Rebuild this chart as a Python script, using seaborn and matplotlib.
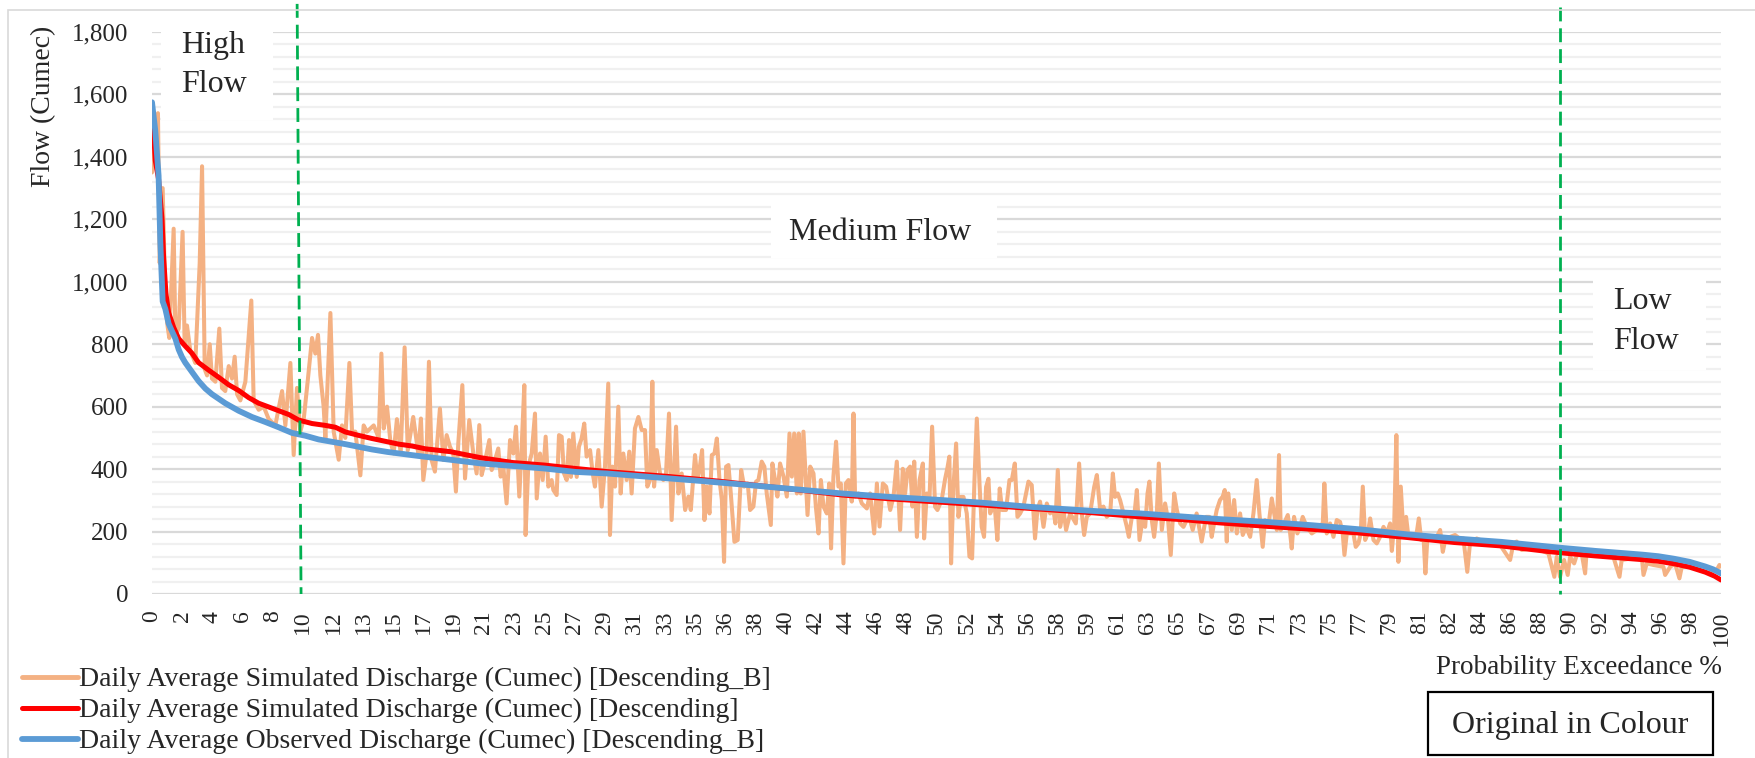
import numpy as np
import pandas as pd
import matplotlib
matplotlib.use("Agg")
import matplotlib.pyplot as plt
import matplotlib.transforms as mtransforms
from matplotlib.ticker import MultipleLocator, FuncFormatter
from matplotlib.patches import Rectangle
from matplotlib.lines import Line2D
import seaborn as sns

# ---------------- data ----------------
x_tick_labels = ["0", "2", "4", "6", "8", "10", "12", "13", "15", "17", "19", "21", "23", "25",
                 "27", "29", "31", "33", "35", "36", "38", "40", "42", "44", "46", "48", "50",
                 "52", "54", "56", "58", "59", "61", "63", "65", "67", "69", "71", "73", "75",
                 "77", "79", "81", "82", "84", "86", "88", "90", "92", "94", "96", "98", "100"]

series_names = ["Daily Average Simulated Discharge (Cumec) [Descending_B]",
                "Daily Average Simulated Discharge (Cumec) [Descending]",
                "Daily Average Observed Discharge (Cumec) [Descending_B]"]

obs_pct = [0, 0.21, 0.42, 0.53, 0.68, 0.85, 1.06, 1.27, 1.49, 1.70, 1.91, 2.12, 2.55, 2.97, 3.40,
           3.82, 4.67, 5.52, 6.37, 7.22, 8.07, 8.92, 9.77, 10.62, 12.32, 14.02, 15.0, 17.0, 19, 21,
           23, 25, 27, 29, 31, 33, 35, 38, 40, 44, 47, 50, 53, 56, 60, 63, 66, 68, 71, 74, 77, 80,
           83, 86, 89, 90, 92, 94, 95, 96, 97, 98, 99, 99.5, 100]
obs_flow = [1575, 1483, 1340, 1127, 937, 913, 866, 842, 818, 783, 759, 741, 711, 682, 658,
            640, 611, 587, 567, 551, 534, 516, 507, 495, 480, 463, 455, 442, 430, 418,
            410, 402, 391, 386, 378, 370, 362, 349, 340, 322, 311, 302, 292, 279, 266, 258, 247,
            240, 231, 220, 207, 191, 178, 167, 152, 147, 138, 130, 126, 121, 113, 103, 88, 79, 66]

sim_pct = [0, 0.13, 0.21, 0.42, 0.64, 0.74, 0.89, 1.06, 1.38, 1.70, 2.12, 2.55, 2.97, 3.61, 4.25,
           4.89, 5.52, 6.16, 6.80, 7.44, 8.07, 8.71, 9.35, 10.2, 11.05, 11.69, 12.32, 13.17, 14.02,
           14.87, 15.72, 16.57, 17.42, 19, 21, 23, 25, 27, 29, 31, 33, 36, 40, 44, 47, 50, 53, 56,
           60, 63, 66, 68, 71, 74, 77, 80, 83, 86, 89, 90, 92, 94, 95, 96, 97, 98, 99, 99.6, 100]
sim_flow = [1525, 1454, 1388, 1328, 1200, 1079, 961, 901, 854, 818, 794, 771, 741, 717, 694,
            670, 652, 629, 611, 599, 587, 575, 557, 546, 540, 534, 519, 508, 498,
            489, 480, 474, 465, 456, 436, 421, 413, 402, 392, 384, 376, 362, 340, 317, 305, 295,
            285, 274, 260, 247, 237, 228, 217, 207, 195, 181, 165, 154, 136, 131, 122, 114, 110,
            105, 97, 86, 70, 57, 45]

simb_pct = [0.00, 0.38, 0.49, 0.68, 0.85, 0.96, 1.10, 1.38, 1.49, 1.70, 1.95, 2.08, 2.23, 2.44,
            2.76, 3.04, 3.19, 3.36, 3.51, 3.68, 3.82, 4.04, 4.29, 4.46, 4.67, 4.89, 5.10, 5.27,
            5.42, 5.63, 5.95, 6.33, 6.48, 6.80, 7.12, 7.44, 7.86, 8.29, 8.50, 8.82, 9.03, 9.24,
            9.45, 9.67, 9.94, 10.20, 10.41, 10.58, 10.73, 10.94, 11.05, 11.37, 11.58, 11.90,
            12.11, 12.32, 12.58, 12.75, 12.96, 13.28, 13.49, 13.70, 14.13, 14.45, 14.62, 14.77,
            14.98, 15.19, 15.40, 15.61, 15.85, 16.10, 16.30,
            16.65, 16.82, 16.97, 17.14, 17.29, 17.50, 17.65, 17.82, 18.03, 18.35, 18.57, 18.78,
            18.99, 19.20, 19.37, 19.52, 19.78, 19.95, 20.22, 20.48, 20.69, 20.86, 21.01, 21.22,
            21.50, 21.65, 21.86, 22.07, 22.22, 22.39, 22.60, 22.82, 23.03, 23.20, 23.41, 23.56,
            23.73, 23.81, 23.98, 24.20, 24.41, 24.52, 24.73, 24.90, 25.09, 25.26, 25.47, 25.58,
            25.79, 25.94, 26.11, 26.26, 26.43, 26.58, 26.70, 26.85, 27.07, 27.21, 27.38, 27.55,
            27.70, 27.92, 28.09, 28.23, 28.45, 28.66, 28.87, 29.08, 29.19, 29.34, 29.51, 29.72,
            29.87, 30.04, 30.25, 30.42, 30.57, 30.78, 31.00, 31.21, 31.42, 31.57, 31.74, 31.89,
            32.00, 32.17, 32.38, 32.59, 32.76, 32.95, 33.12, 33.40,
            33.55, 33.76, 33.98, 34.19, 34.34, 34.61, 34.76, 34.89, 35.06, 35.21, 35.36, 35.53,
            35.68, 35.85, 36.00, 36.17, 36.32, 36.46, 36.59, 36.74, 36.89, 37.12, 37.33, 37.55,
            37.74, 37.97, 38.12, 38.33, 38.50, 38.65, 38.86, 39.03, 39.18, 39.44, 39.54, 39.71,
            39.86, 40.03, 40.25, 40.46, 40.63, 40.78, 40.93, 41.10, 41.22, 41.35, 41.52, 41.63,
            41.78, 41.95, 42.16, 42.31, 42.48, 42.63, 42.80, 43.01, 43.16, 43.28, 43.43, 43.60,
            43.75, 43.90, 44.07, 44.22, 44.39, 44.60, 44.71, 44.81, 45.03, 45.24, 45.56, 45.77,
            46.03, 46.20, 46.37, 46.58, 46.79, 47.05, 47.26, 47.47, 47.68, 47.85, 48.00, 48.15,
            48.32, 48.47, 48.58, 48.75, 48.92, 49.13, 49.21, 49.38, 49.55, 49.72,
            49.91, 50.06, 50.33, 50.55, 50.70, 50.82, 50.93, 51.08, 51.25, 51.40, 51.55, 51.72,
            51.93, 52.10, 52.27, 52.42, 52.57, 52.74, 52.88, 53.03, 53.16, 53.31, 53.42, 53.59,
            53.73, 53.88, 54.03, 54.18, 54.43, 54.65, 54.80, 54.99, 55.16, 55.33, 55.54, 55.86,
            56.07, 56.28, 56.43, 56.60, 56.82, 57.03, 57.24, 57.45, 57.58, 57.73, 57.88, 58.09,
            58.26, 58.52, 58.88, 59.09, 59.26, 59.41, 59.58, 59.79, 60.05, 60.22, 60.43, 60.64,
            60.85, 61.07, 61.24, 61.38, 61.55, 61.70, 61.92, 62.13, 62.26, 62.45, 62.62, 62.77,
            62.94, 63.13, 63.30, 63.45, 63.57, 63.72, 63.87, 64.04, 64.17, 64.36, 64.57, 64.76,
            64.93, 65.15, 65.32, 65.53, 65.74, 65.95,
            66.16, 66.33, 66.58, 66.90, 67.18, 67.39, 67.54, 67.69, 67.86, 68.07, 68.24, 68.37,
            68.50, 68.60, 68.82, 68.97, 69.14, 69.35, 69.52, 69.73, 69.99, 70.20, 70.41, 70.58,
            70.79, 70.94, 71.15, 71.37, 71.52, 71.69, 71.83, 71.94, 72.15, 72.39, 72.54, 72.64,
            72.79, 73.00, 73.17, 73.34, 73.60, 73.92, 74.24, 74.49, 74.62, 74.72, 74.87, 75.09,
            75.30, 75.51, 75.72, 75.89, 76.00, 76.15, 76.36, 76.57, 76.72, 76.89, 77.04, 77.17,
            77.32, 77.49, 77.64, 77.85, 78.06, 78.27, 78.49, 78.70, 78.91, 79.02, 79.17, 79.31,
            79.44, 79.59, 79.76, 79.93, 80.08, 80.29, 80.57, 80.74, 80.89, 81.04, 81.16, 81.29,
            81.57, 81.89, 82.10, 82.27, 82.42, 82.74, 83.05, 83.33,
            83.58, 83.83, 84.00, 84.43, 84.86, 85.28, 85.92, 86.56, 86.77, 86.98, 87.30, 87.83,
            88.47, 89.00, 89.38, 89.53, 89.74, 90.00, 90.23, 90.38, 90.64, 90.81, 91.12, 91.34,
            91.44, 91.87, 92.51, 93.14, 93.53, 93.67, 94.31, 94.95, 95.06, 95.27, 95.69, 96.33,
            96.44, 96.76, 97.07, 97.35, 97.50, 98.03, 98.67, 99.31, 99.73, 99.90, 100.0]
simb_flow = [1350, 1540, 1060, 1300, 950, 870, 820, 1170, 830, 850, 1160, 800, 860, 780,
             740, 1060, 1370, 720, 700, 800, 690, 680, 850, 660, 650, 730, 690, 760,
             640, 620, 680, 940, 620, 590, 600, 560, 540, 650, 540, 740, 445, 660,
             520, 560, 690, 820, 770, 830, 700, 600, 500, 900, 520, 430,
             540, 500, 740, 520, 520, 380, 540, 520, 540, 500, 770, 530,
             600, 490, 450, 560, 450, 790, 460,
             567, 504, 450, 562, 365, 450, 744, 429, 392, 594, 429, 509,
             472, 450, 328, 482, 669, 370, 557, 450, 386, 541, 381, 424,
             493, 397, 429, 466, 376, 408, 290, 493, 450, 536, 312, 471,
             669, 189, 408, 450, 578, 306, 450, 365, 504, 344, 365, 333,
             317, 509, 504, 386, 365, 493, 375, 514, 375, 472, 498, 546,
             440, 461, 386, 344, 461, 280, 408, 674, 189, 408, 344, 600,
             322, 450, 365, 456, 322, 530, 567, 525, 525, 344, 365, 680,
             344, 461, 386, 365, 386, 578, 237, 536,
             322, 386, 269, 312, 269, 445, 365, 397, 461, 237, 344, 258,
             445, 450, 498, 365, 301, 103, 408, 413, 322, 167, 173, 397,
             344, 354, 269, 280, 360, 365, 424, 408, 322, 221, 418, 365,
             312, 418, 376, 312, 514, 376, 514, 322, 514, 322, 520, 408,
             253, 408, 386, 280, 194, 365, 280, 258, 354, 146, 376, 488,
             344, 354, 98, 354, 365, 296, 578, 312, 322, 290, 274, 322,
             194, 354, 216, 354, 344, 269, 312, 424, 205, 401, 322, 397,
             408, 280, 424, 183, 365, 418, 178, 322, 301, 536,
             279, 269, 301, 369, 405, 440, 98, 343, 482, 247, 311, 311,
             258, 120, 114, 365, 562, 354, 215, 183, 343, 369, 258, 280,
             269, 173, 338, 269, 269, 365, 365, 418, 247, 258, 280, 360,
             349, 178, 269, 296, 215, 290, 258, 269, 226, 397, 215, 269,
             205, 258, 226, 418, 258, 189, 247, 258, 343, 381, 269, 280,
             247, 258, 386, 311, 322, 301, 258, 215, 183, 247, 258, 333,
             173, 237, 215, 322, 360, 237, 183, 258, 418, 205, 290, 237,
             125, 322, 269, 226, 215, 237,
             237, 205, 258, 168, 247, 247, 183, 226, 269, 301, 312, 333,
             168, 322, 205, 301, 194, 258, 189, 215, 183, 258, 365, 258,
             151, 237, 215, 306, 258, 205, 445, 205, 226, 253, 194, 146,
             247, 194, 215, 247, 215, 194, 205, 221, 226, 354, 194, 226,
             183, 237, 231, 194, 125, 194, 194, 194, 151, 162, 194, 344,
             173, 194, 242, 173, 162, 183, 215, 194, 226, 138, 221, 509,
             103, 344, 194, 247, 183, 183, 183, 242, 173, 183, 66, 183,
             183, 183, 205, 135, 173, 183, 189, 178,
             178, 71, 162, 178, 168, 162, 157, 109, 162, 168, 141, 146,
             141, 130, 55, 119, 55, 109, 61, 119, 98, 125, 130, 66,
             141, 141, 130, 119, 55, 109, 114, 119, 61, 98, 93, 87,
             61, 87, 98, 50, 87, 87, 77, 66, 77, 93, 88]

# ---------------- style ----------------
sns.set_style("white")
plt.rcParams["font.family"] = ["Liberation Serif", "DejaVu Serif"]

W, H = 1756, 758
fig = plt.figure(figsize=(W / 100, H / 100), dpi=100)


def fx(x):
    return x / W


def fy(y):
    return 1 - y / H


ax = fig.add_axes([fx(152), fy(594), (1721 - 152) / W, (594 - 32) / H])

c_or, c_red, c_blue, c_green = "#F4B183", "#FF0000", "#5B9BD5", "#00B050"
lw_or, lw_red, lw_blue = 2.9, 3.6, 4.2

df_b = pd.DataFrame({"pct": simb_pct, "flow": simb_flow})
df_s = pd.DataFrame({"pct": sim_pct, "flow": sim_flow})
df_o = pd.DataFrame({"pct": obs_pct, "flow": obs_flow})

sns.lineplot(data=df_b, x="pct", y="flow", ax=ax, color=c_or, lw=lw_or,
             estimator=None, sort=False, errorbar=None)
sns.lineplot(data=df_s, x="pct", y="flow", ax=ax, color=c_red, lw=lw_red,
             estimator=None, sort=False, errorbar=None)
sns.lineplot(data=df_o, x="pct", y="flow", ax=ax, color=c_blue, lw=lw_blue,
             estimator=None, sort=False, errorbar=None)
for ln in ax.lines:
    ln.set_solid_joinstyle("round")
    ln.set_solid_capstyle("round")

ax.set_xlim(0, 100)
ax.set_ylim(0, 1800)
ax.set_xticks(np.linspace(0, 100, len(x_tick_labels)))
ax.set_xticklabels(x_tick_labels, rotation=90, fontsize=17)
ax.tick_params(axis="x", length=0, pad=12)
ax.set_yticks(np.arange(0, 1801, 200))
ax.yaxis.set_major_formatter(FuncFormatter(lambda v, _: f"{v:,.0f}"))
ax.yaxis.set_minor_locator(MultipleLocator(40))
ax.tick_params(axis="y", which="both", length=0, pad=17, labelsize=18)
ax.grid(axis="y", which="major", color="#D9D9D9", lw=1.6)
ax.grid(axis="y", which="minor", color="#F0F0F0", lw=1.6)
ax.grid(axis="x", visible=False)
ax.set_axisbelow(True)
for s in ax.spines.values():
    s.set_visible(False)
ax.set_xlabel("")
ax.set_ylabel("")

# dashed flow-regime separators
trans = mtransforms.blended_transform_factory(ax.transData, ax.transAxes)
ax.plot([9.25, 9.5], [1.05, 0.0], transform=trans, clip_on=False, color=c_green,
        lw=2, dashes=(5, 2.5), zorder=5)
ax.plot([89.74, 89.74], [1.045, 0.0], transform=trans, clip_on=False, color=c_green,
        lw=2, dashes=(5, 2.5), zorder=5)

# chart border (light)
fig.patches.append(Rectangle((fx(8), -0.2), 2.0, fy(10) + 0.2, transform=fig.transFigure,
                             facecolor="none", edgecolor="#D9D9D9", lw=1.2, zorder=0))

# white annotation boxes and texts
def white_box(x0, y0, x1, y1):
    fig.patches.append(Rectangle((fx(x0), fy(y1)), (x1 - x0) / W, (y1 - y0) / H,
                                 transform=fig.transFigure, facecolor="white",
                                 edgecolor="none", zorder=3))

white_box(161, 28, 273, 120)
white_box(771, 205, 997, 258)
white_box(1593, 280, 1706, 370)

fig.text(fx(181), fy(45), "High", fontsize=23, ha="left", va="center", zorder=4)
fig.text(fx(181), fy(85), "Flow", fontsize=23, ha="left", va="center", zorder=4)
fig.text(fx(880), fy(232), "Medium Flow", fontsize=23, ha="center", va="center", zorder=4)
fig.text(fx(1613), fy(302), "Low", fontsize=23, ha="left", va="center", zorder=4)
fig.text(fx(1613), fy(341), "Flow", fontsize=23, ha="left", va="center", zorder=4)

# axis titles
fig.text(fx(44), fy(106), "Flow (Cumec)", rotation=90, fontsize=20, ha="center", va="center")
fig.text(fx(1722), fy(667), "Probability Exceedance %", fontsize=19.5, ha="right", va="center")

# legend
handles = [Line2D([], [], color=c_or, lw=lw_or + 0.6),
           Line2D([], [], color=c_red, lw=lw_red),
           Line2D([], [], color=c_blue, lw=lw_blue)]
fig.legend(handles, series_names, loc="upper left", bbox_to_anchor=(fx(22), fy(667)),
           bbox_transform=fig.transFigure, frameon=False, fontsize=20, handlelength=2.0,
           handletextpad=0.05, labelspacing=0.2, borderpad=0, borderaxespad=0)

# "Original in Colour" box
fig.patches.append(Rectangle((fx(1428), fy(755)), (1713 - 1428) / W, (755 - 692) / H,
                             transform=fig.transFigure, facecolor="white",
                             edgecolor="black", lw=1.6, zorder=3))
fig.text(fx(1570), fy(725), "Original in Colour", fontsize=23, ha="center", va="center",
         zorder=4)

fig.savefig("out.png", dpi=100)
